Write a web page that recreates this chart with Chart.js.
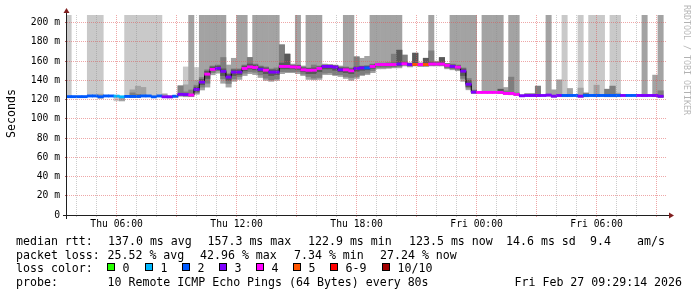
<!DOCTYPE html>
<html>
<head>
<meta charset="utf-8">
<title>SmokePing median rtt</title>
<script src="https://cdn.jsdelivr.net/npm/chart.js@4.4.1/dist/chart.umd.min.js"></script>
<style>
  html, body { margin: 0; padding: 0; background: #fff; }
  #wrap { width: 697px; height: 297px; }
</style>
</head>
<body>
<div id="wrap"><canvas id="smoke" width="697" height="297"></canvas></div>
<script>
const _ = null;

// 16 minute rrd slots, counted from Thu 00:00 (slot 13 = 03:28)
const firstSlot = 13;
const slotMinutes = 16;

// median rtt per slot (ms)
const median = [
  123.1,123.1,123.1,123.1,123.8,123.8,123.0,123.8,123.8,123.6,
  122.9,123.3,123.3,123.3,123.8,123.8,122.9,123.8,122.9,122.9,
  123.5,125.5,125.3,124.8,130.6,138.2,146.5,151.4,152.5,149.4,
  143.4,148.6,148.6,152.4,154.0,153.4,151.5,150.6,148.6,148.6,
  154.5,154.5,154.0,153.7,151.0,150.5,150.6,152.4,154.5,154.5,
  153.8,151.0,151.0,150.0,152.4,153.0,153.0,154.5,156.5,156.5,
  156.5,156.5,157.0,157.3,156.5,156.6,156.5,156.5,157.0,157.0,
  157.0,155.6,154.5,153.7,149.6,136.0,127.8,127.5,127.5,127.5,
  127.5,127.5,126.4,126.4,125.4,124.0,124.3,124.3,124.3,124.3,
  124.7,123.6,124.3,124.3,124.3,124.3,123.6,124.3,124.3,124.3,
  124.3,124.3,124.3,124.3,124.3,124.3,124.3,124.3,124.3,124.3,
  124.3,123.5
];

// lost pings (index into lossNames) per slot
const loss = [
  2,2,2,2,2,2,2,2,2,1,
  1,2,2,2,2,2,2,2,3,3,
  2,3,3,4,3,3,4,4,3,3,
  3,3,3,4,4,4,3,4,3,3,
  4,4,4,4,4,4,4,4,3,3,
  3,3,4,4,3,3,2,4,4,4,
  4,4,3,4,3,5,4,5,4,4,
  4,4,3,4,3,3,3,4,4,4,
  4,4,4,4,4,3,3,3,3,3,
  3,3,3,2,2,2,3,2,2,2,
  2,2,2,2,3,2,2,3,3,3,
  3,3
];

// smoke: outer pings (light), next pair (mid), inner pairs (dark, darker)
const lightTop = [
  208,_,_,_,208,208,208,_,_,124.5,
  123.5,208,208,208,208,208,208,208,_,_,
  _,_,154,_,153.4,_,_,_,_,_,
  _,_,_,_,_,_,_,_,_,_,
  _,_,_,_,_,_,_,_,_,_,
  _,_,_,_,_,_,_,_,_,_,
  _,_,_,_,_,_,_,_,_,_,
  _,_,_,_,_,_,_,_,_,_,
  _,_,_,_,_,_,_,_,_,_,
  _,_,_,208,_,_,208,_,208,208,
  208,_,208,208,_,_,_,_,_,_,
  _,_
];
const midTop = [
  _,_,_,_,_,_,125.7,_,_,_,
  123.2,_,130.2,134,132.7,_,_,_,126,124,
  124.5,134.3,135.4,208,140,208,208,208,208,208,
  156,163,208,208,164,208,208,208,208,208,
  177,167.3,157,208,155,208,208,208,157,156.5,
  156,155,208,208,164.5,163,165,208,208,208,
  208,208,208,166.3,158,168.3,158,163,208,160,
  163.7,157.5,208,208,208,208,208,128.5,208,208,
  208,208,132.6,208,208,125,126.5,126.5,134,_,
  208,130.2,140.6,125.5,131.6,_,132,126.8,_,135,
  _,130.8,134,126.8,_,_,_,_,208,_,
  145.5,208
];
const outerLow = [
  122.5,_,_,_,123,123,121.5,_,_,118.7,
  118.7,122.5,122.5,122.5,123,123,122,123,122,121.8,
  122.5,123.5,123,123,125.7,130,133,145.8,147.5,137,
  133,139,141,145,147,146,143,140,139,140,
  147,148,148,147,145,141,140.6,141,146,146,
  145,144,142,140,142,145,146,148,152,152,
  152.5,153,153,155,154,155,154.5,154.5,155,155,
  155,152,151,150,139,130.2,126.5,126.8,126.8,126.8,
  126.8,126.5,125.5,125,124.5,123,123.5,123.5,123.5,_,
  123.5,122.5,123,123,123,_,122.5,123,123,123,
  123,123,123,123,_,_,_,_,123,_,
  123,122
];
const darkTop = [
  _,_,_,_,_,_,_,_,_,_,
  _,_,127,125.5,_,_,_,_,_,_,
  _,134.3,128,130,135,143,151,155,156,163.8,
  147,152,152,156,163.8,157,155,154,152,153,
  177,167.3,156,156,154,153,156,155,156,156,
  155.5,154,154,153,164.5,155,155.5,157,158,158,
  158.5,167.3,171.4,166.3,158,168.3,158,163,170.7,159,
  163.7,157.5,157,156,153,142,130,_,_,_,
  _,130.8,129,143.4,127,_,_,_,134,_,
  _,_,_,_,_,_,_,126.8,_,_,
  _,130.8,134,_,_,_,_,_,_,_,
  _,129.2
];
const innerLow = [
  _,_,_,_,_,_,_,_,_,_,
  _,_,122.5,122.5,_,_,_,_,_,_,
  _,124,124,123.5,127,133,137,148,150,141.6,
  136.8,141.6,144,147.5,149,148.4,145.8,142.3,140.6,141.6,
  149,149,149,149,146.5,144,142.3,143,147.5,148,
  146,146,144,143,144,146,147.5,150,153.4,153.4,
  153.4,154,154.4,156,155,155.5,155,155,156,156,
  156,153,152,151,142,132,127,_,_,_,
  _,126.8,125.8,125.5,124.5,_,_,_,123.5,_,
  _,_,_,_,_,_,_,123,_,_,
  _,123,123,_,_,_,_,_,_,_,
  _,122.5
];
const darkerTop = [
  _,_,_,_,_,_,_,_,_,_,
  _,_,_,_,_,_,_,_,_,_,
  _,_,_,_,133,141,149.5,154,155,152,
  146,151,151,155,157,156,154,153,151,151,
  158,167.3,155.5,155.5,153,152.5,153,154,155.5,155.5,
  155,153,153,152,154,154.5,154.5,156,157.5,157.5,
  157.5,158,171.4,159,157.5,168.3,157.5,163,159,158.5,
  163.7,157,156,155,152,140,129,_,_,_,
  _,130.8,_,_,_,_,_,_,_,_,
  _,_,_,_,_,_,_,_,_,_,
  _,_,_,_,_,_,_,_,_,_,
  _,_
];
const darkerLow = [
  _,_,_,_,_,_,_,_,_,_,
  _,_,_,_,_,_,_,_,_,_,
  _,_,_,_,128.5,135.5,142,150,151,145,
  140,145,146,150,152,151,149,147,145,146,
  152,152,152,151.5,149,147,147,149,152,152,
  150.5,149,148,147,149.5,150.5,151,152.5,155,155,
  155,155,155.5,156.5,155.5,155.5,155.5,155.5,156,156,
  156,154,153,152,145,133.5,127,_,_,_,
  _,126.8,_,_,_,_,_,_,_,_,
  _,_,_,_,_,_,_,_,_,_,
  _,_,_,_,_,_,_,_,_,_,
  _,_
];

// axes
const xMin = 3.52, xMax = 33.52;           // hours since Thu 00:00
const gridHours = [4,5,6,7,8,9,10,11,12,13,14,15,16,17,18,19,20,21,22,23,24,25,26,27,28,29,30,31,32,33];
const xTickHours = [6, 12, 18, 24, 30];
const xTickLabels = ['Thu 06:00', 'Thu 12:00', 'Thu 18:00', 'Fri 00:00', 'Fri 06:00'];
const yGrid = [0,10,20,30,40,50,60,70,80,90,100,110,120,130,140,150,160,170,180,190,200];
const yTickValues = [0, 20, 40, 60, 80, 100, 120, 140, 160, 180, 200];
const yTickLabels = ['0', '20 m', '40 m', '60 m', '80 m', '100 m', '120 m', '140 m', '160 m', '180 m', '200 m'];
const yMax = 208;

// legend
const lossNames = ['0', '1', '2', '3', '4', '5', '6-9', '10/10'];
const lossColors = ['#26ff00', '#00b8ff', '#0059ff', '#7e00ff', '#ff00ff', '#ff5500', '#ff0000', '#a10000'];
const rttStats = ['137.0 ms avg', '157.3 ms max', '122.9 ms min', '123.5 ms now', '14.6 ms sd', '9.4', 'am/s'];
const lossStats = ['25.52 % avg', '42.96 % max', '7.34 % min', '27.24 % now'];
const probeText = '10 Remote ICMP Echo Pings (64 Bytes) every 80s';
const stampText = 'Fri Feb 27 09:29:14 2026';

const slotStart = i => (firstSlot + i) * slotMinutes / 60;
const slotCenter = i => ((firstSlot + i) * slotMinutes + slotMinutes / 2) / 60;

function smoke(lows, tops) {
  const pts = [];
  tops.forEach((top, i) => {
    if (top === null || lows[i] === null) return;
    pts.push({ x: slotCenter(i), y: [lows[i], top] });
  });
  return pts;
}

const medianSteps = median.map((v, i) => ({ x: slotStart(i), y: v }));
medianSteps.push({ x: slotStart(median.length), y: median[median.length - 1] });

const lossBand = median.map((v, i) => ({ x: slotCenter(i), y: [v - 1.15, v + 1.15] }));

const barCommon = { type: 'bar', grouped: false, barPercentage: 1, categoryPercentage: 1, borderWidth: 0, clip: 0 };

const minorGrid = 'rgba(143,143,143,0.45)';
const majorGrid = 'rgba(222,79,79,0.5)';
const legendFont = '11.6px "DejaVu Sans Mono"';

const decorations = {
  id: 'decorations',
  afterDraw(chart) {
    const ctx = chart.ctx;
    const a = chart.chartArea;
    ctx.save();

    // axis lines with arrows
    ctx.strokeStyle = '#1f1f1f';
    ctx.lineWidth = 1;
    ctx.beginPath();
    ctx.moveTo(a.left - 4, a.bottom + 0.5);
    ctx.lineTo(a.right + 4, a.bottom + 0.5);
    ctx.moveTo(a.left - 0.5, a.bottom + 4);
    ctx.lineTo(a.left - 0.5, a.top - 4);
    ctx.stroke();
    ctx.fillStyle = '#801f1f';
    ctx.beginPath();
    ctx.moveTo(a.right + 2, a.bottom - 2.5);
    ctx.lineTo(a.right + 2, a.bottom + 3.5);
    ctx.lineTo(a.right + 7, a.bottom + 0.5);
    ctx.closePath();
    ctx.fill();
    ctx.beginPath();
    ctx.moveTo(a.left - 3.5, a.top - 2);
    ctx.lineTo(a.left + 2.5, a.top - 2);
    ctx.lineTo(a.left - 0.5, a.top - 7);
    ctx.closePath();
    ctx.fill();

    // y title
    ctx.fillStyle = '#000';
    ctx.font = legendFont;
    ctx.textBaseline = 'alphabetic';
    ctx.save();
    ctx.translate(15, 113.5);
    ctx.rotate(-Math.PI / 2);
    ctx.textAlign = 'center';
    ctx.fillText('Seconds', 0, 0);
    ctx.restore();

    // watermark
    ctx.save();
    ctx.fillStyle = 'rgba(0,0,0,0.3)';
    ctx.font = '8.3px "DejaVu Sans Mono"';
    ctx.translate(683.5, 5);
    ctx.rotate(Math.PI / 2);
    ctx.textAlign = 'left';
    ctx.fillText('RRDTOOL / TOBI OETIKER', 0, 0);
    ctx.restore();

    // legend block
    ctx.textAlign = 'left';
    const rows = [245, 258.7, 272.4, 286.2];
    ctx.fillText('median rtt:', 16, rows[0]);
    [108, 207.5, 308, 409, 506, 590, 637].forEach((x, i) => ctx.fillText(rttStats[i], x, rows[0]));
    ctx.fillText('packet loss:', 16, rows[1]);
    [107.5, 200, 294, 380].forEach((x, i) => ctx.fillText(lossStats[i], x, rows[1]));
    ctx.fillText('loss color:', 16, rows[2]);
    const swatchX = [107, 145, 182, 219, 256, 293, 330, 382];
    swatchX.forEach((x, i) => {
      ctx.fillStyle = lossColors[i];
      ctx.fillRect(x, 263, 8, 8);
      ctx.strokeStyle = '#000';
      ctx.strokeRect(x + 0.5, 263.5, 7, 7);
      ctx.fillStyle = '#000';
      ctx.fillText(lossNames[i], x + 15.5, rows[2]);
    });
    ctx.fillText('probe:', 16, rows[3]);
    ctx.fillText(probeText, 107.5, rows[3]);
    ctx.fillText(stampText, 514.5, rows[3]);
    ctx.restore();
  }
};

Chart.defaults.font.family = '"DejaVu Sans Mono", monospace';

new Chart(document.getElementById('smoke'), {
  data: {
    datasets: [
      { ...barCommon, data: smoke(outerLow, lightTop), backgroundColor: '#c9c9c9', order: 5 },
      { ...barCommon, data: smoke(outerLow, midTop), backgroundColor: '#a3a3a3', order: 4 },
      { ...barCommon, data: smoke(innerLow, darkTop), backgroundColor: '#7e7e7e', order: 3 },
      { ...barCommon, data: smoke(darkerLow, darkerTop), backgroundColor: '#585858', order: 2 },
      { type: 'line', data: medianSteps, stepped: 'before', borderColor: '#000', borderWidth: 1,
        pointRadius: 0, fill: false, clip: 0, order: 1 },
      { ...barCommon, data: lossBand, backgroundColor: c => lossColors[loss[c.dataIndex]], order: 0 }
    ]
  },
  options: {
    responsive: false,
    animation: false,
    events: [],
    layout: { padding: { left: 0, top: 15, right: 30, bottom: 0 } },
    plugins: { legend: { display: false }, tooltip: { enabled: false } },
    scales: {
      x: {
        type: 'linear', min: xMin, max: xMax, offset: false,
        afterBuildTicks: s => { s.ticks = gridHours.map(v => ({ value: v })); },
        afterFit: s => { s.height = 82; },
        grid: {
          z: 1, lineWidth: 1, tickLength: 2, offset: false,
          color: c => (c.tick && c.tick.value % 3 === 0) ? majorGrid : minorGrid,
          tickColor: c => (c.tick && c.tick.value % 3 === 0) ? majorGrid : minorGrid
        },
        border: { display: false, dash: [1, 1] },
        ticks: {
          autoSkip: false, maxRotation: 0, minRotation: 0, padding: 2, color: '#000',
          font: { size: 9.7 },
          callback: v => { const k = xTickHours.indexOf(v); return k < 0 ? '' : xTickLabels[k]; }
        }
      },
      y: {
        type: 'linear', min: 0, max: yMax, offset: false,
        afterBuildTicks: s => { s.ticks = yGrid.map(v => ({ value: v })); },
        afterFit: s => { s.width = 67; },
        grid: {
          z: 1, lineWidth: 1, tickLength: 2,
          color: c => (c.tick && c.tick.value % 20 === 0) ? majorGrid : minorGrid,
          tickColor: c => (c.tick && c.tick.value % 20 === 0) ? 'rgba(160,50,50,0.8)' : 'rgba(120,120,120,0.6)'
        },
        border: { display: false, dash: [1, 1] },
        ticks: {
          padding: 5, color: '#000',
          font: { size: 9.7 },
          callback: v => { const k = yTickValues.indexOf(v); return k < 0 ? '' : yTickLabels[k]; }
        }
      }
    }
  },
  plugins: [decorations]
});
</script>
</body>
</html>
